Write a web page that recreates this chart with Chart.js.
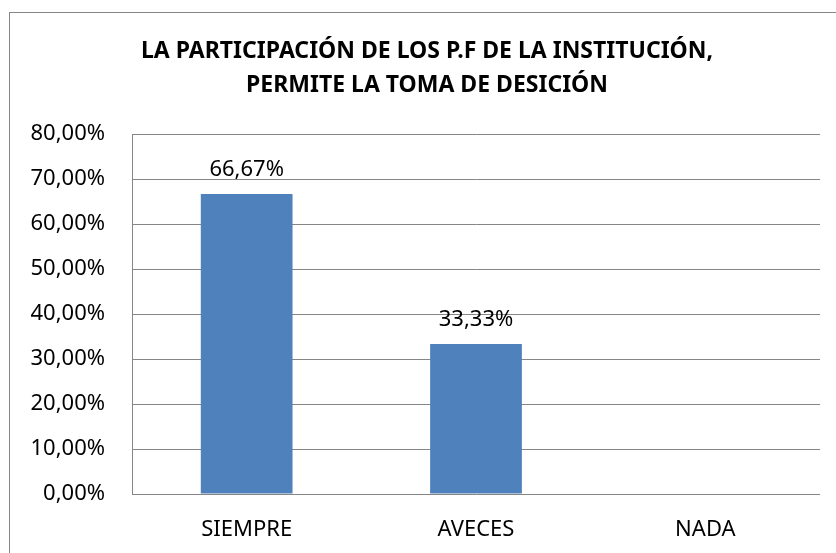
<!DOCTYPE html>
<html>
<head>
<meta charset="utf-8">
<script src="https://cdn.jsdelivr.net/npm/chart.js@4"></script>
<style>
  html, body { margin: 0; padding: 0; background: #fff; }
  #wrap { width: 836px; height: 553px; position: relative; }
</style>
</head>
<body>
<div id="wrap"><canvas id="chart" width="836" height="553"></canvas></div>
<script>
// Chart data
const categories = ['SIEMPRE', 'AVECES', 'NADA'];
const percentages = [66.67, 33.33, 0];
const titleLines = ['LA PARTICIPACIÓN DE LOS P.F DE LA INSTITUCIÓN,', 'PERMITE LA TOMA DE DESICIÓN'];
const yTicks = [0, 10, 20, 30, 40, 50, 60, 70, 80];

const FONT = '"Noto Sans", "Open Sans", sans-serif';
const GRID = '#868686';

function pct(v) {
    return v.toFixed(2).replace('.', ',') + '%';
}

// outer frame like the spreadsheet chart box
const framePlugin = {
    id: 'frame',
    afterLayout(chart) {
        // let the y tick labels use the space left of the layout padding
        chart.scales.y.left = 0;
    },
    beforeDraw(chart) {
        const ctx = chart.ctx;
        ctx.save();
        ctx.fillStyle = '#fff';
        ctx.fillRect(0, 0, chart.width, chart.height);
        ctx.strokeStyle = GRID;
        ctx.lineWidth = 1;
        ctx.strokeRect(9.5, 12.5, chart.width + 20, chart.height + 20);
        ctx.restore();
    }
};

// value labels above the bars (zero bars get none)
const valueLabels = {
    id: 'valueLabels',
    afterDatasetsDraw(chart) {
        const ctx = chart.ctx;
        const meta = chart.getDatasetMeta(0);
        ctx.save();
        ctx.font = '22px ' + FONT;
        ctx.fillStyle = '#000';
        ctx.textAlign = 'center';
        ctx.textBaseline = 'bottom';
        meta.data.forEach((bar, i) => {
            const v = percentages[i];
            if (!v) return;
            ctx.fillText(pct(v), bar.x, bar.y - 13);
        });
        ctx.restore();
    }
};

const ctx = document.getElementById('chart').getContext('2d');
new Chart(ctx, {
    type: 'bar',
    data: {
        labels: categories,
        datasets: [{
            data: percentages,
            backgroundColor: '#4F81BD',
            borderWidth: 0,
            barPercentage: 0.4,
            categoryPercentage: 1
        }]
    },
    options: {
        responsive: false,
        animation: false,
        layout: {
            padding: { top: 12, left: 34, right: 16, bottom: 0 }
        },
        plugins: {
            legend: { display: false },
            tooltip: { enabled: false },
            title: {
                display: true,
                text: titleLines,
                color: '#000',
                font: { family: FONT, size: 23, weight: 'bold', lineHeight: 1.48 },
                padding: { top: 22, bottom: 32 }
            }
        },
        scales: {
            x: {
                grid: { display: false, drawTicks: false },
                border: { display: false },
                ticks: {
                    color: '#000',
                    font: { family: FONT, size: 22 },
                    padding: 23
                },
                afterFit(scale) { scale.height = 59; }
            },
            y: {
                min: 0,
                max: 80,
                afterBuildTicks(scale) {
                    scale.ticks = yTicks.map(v => ({ value: v }));
                },
                grid: { color: GRID, lineWidth: 1, drawTicks: false },
                border: { display: true, color: GRID, width: 1 },
                ticks: {
                    color: '#000',
                    font: { family: FONT, size: 22 },
                    padding: 27,
                    callback: v => pct(v)
                },
                afterFit(scale) { scale.width = 98; }
            }
        }
    },
    plugins: [framePlugin, valueLabels]
});
</script>
</body>
</html>
